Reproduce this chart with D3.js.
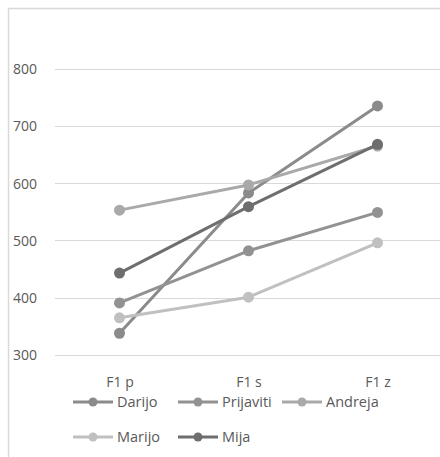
<!DOCTYPE html>
<html>
<head>
<meta charset="utf-8">
<script src="https://cdn.jsdelivr.net/npm/d3@7"></script>
<style>
  html, body { margin: 0; padding: 0; background: #fff; }
  svg { display: block; }
  text { font-family: "Open Sans", sans-serif; fill: #595959; }
</style>
</head>
<body>
<svg id="chart" width="440" height="457"></svg>
<script>
// Categories and series (F1 formant values per speaker)
const categories = ["F1 p", "F1 s", "F1 z"];
const seriesNames = ["Darijo", "Prijaviti", "Andreja", "Marijo", "Mija"];
const darijo    = [338, 583, 735];
const prijaviti = [391, 482, 549];
const andreja   = [553, 597, 665];
const marijo    = [365, 401, 496];
const mija      = [443, 559, 668];
const yTicks    = [300, 400, 500, 600, 700, 800];

const seriesValues = [darijo, prijaviti, andreja, marijo, mija];
const colors = ["#8b8b8b", "#929292", "#a9a9a9", "#c0c0c0", "#6e6e6e"];

const svg = d3.select("#chart");

// outer frame of the chart area
svg.append("path")
  .attr("d", "M8.5,457 L8.5,8.5 L440,8.5")
  .attr("fill", "none")
  .attr("stroke", "#d9d9d9")
  .attr("stroke-width", 1.5);

const x = d3.scalePoint().domain(categories).range([55, 442]).padding(0.5);
const y = d3.scaleLinear().domain([300, 800]).range([355, 68.7]);

// horizontal gridlines
svg.append("g")
  .selectAll("line")
  .data(yTicks)
  .join("line")
  .attr("x1", 55).attr("x2", 442)
  .attr("y1", d => Math.round(y(d)) + 0.5)
  .attr("y2", d => Math.round(y(d)) + 0.5)
  .attr("stroke", "#d9d9d9")
  .attr("stroke-width", 1);

// value axis labels
const yAxis = d3.axisLeft(y).tickValues(yTicks).tickSize(0).tickPadding(0);
const gy = svg.append("g").attr("transform", "translate(37,0)").call(yAxis);
gy.select(".domain").remove();
gy.selectAll("text")
  .attr("font-family", "Open Sans, sans-serif")
  .attr("font-size", 14)
  .attr("fill", "#595959")
  .attr("dy", "0.35em");

// category labels
const xAxis = d3.axisBottom(x).tickSize(0).tickPadding(0);
const gx = svg.append("g").attr("transform", "translate(0,382)").call(xAxis);
gx.select(".domain").remove();
gx.selectAll("text")
  .attr("font-family", "Open Sans, sans-serif")
  .attr("font-size", 14)
  .attr("fill", "#595959")
  .attr("dy", "0.35em");

// series lines and markers
const line = d3.line().x((d, i) => x(categories[i])).y(d => y(d));
const series = svg.append("g").selectAll("g")
  .data(seriesValues)
  .join("g");

series.append("path")
  .attr("d", d => line(d))
  .attr("fill", "none")
  .attr("stroke", (d, i) => colors[i])
  .attr("stroke-width", 3)
  .attr("stroke-linecap", "round")
  .attr("stroke-linejoin", "round");

series.each(function (vals, si) {
  d3.select(this).selectAll("circle")
    .data(vals)
    .join("circle")
    .attr("cx", (d, i) => x(categories[i]))
    .attr("cy", d => y(d))
    .attr("r", 5.5)
    .attr("fill", colors[si]);
});

// legend
const legendPos = [[73, 402], [178, 402], [282, 402], [73, 437], [178, 437]];
const legend = svg.append("g").selectAll("g")
  .data(seriesNames)
  .join("g")
  .attr("transform", (d, i) => `translate(${legendPos[i][0]},${legendPos[i][1]})`);

legend.append("line")
  .attr("x1", 0).attr("x2", 40).attr("y1", 0).attr("y2", 0)
  .attr("stroke", (d, i) => colors[i])
  .attr("stroke-width", 3);
legend.append("circle")
  .attr("cx", 20).attr("cy", 0).attr("r", 4.5)
  .attr("fill", (d, i) => colors[i]);
legend.append("text")
  .attr("x", 44).attr("y", 0).attr("dy", "0.35em")
  .attr("font-size", 14.5)
  .text(d => d);
</script>
</body>
</html>
